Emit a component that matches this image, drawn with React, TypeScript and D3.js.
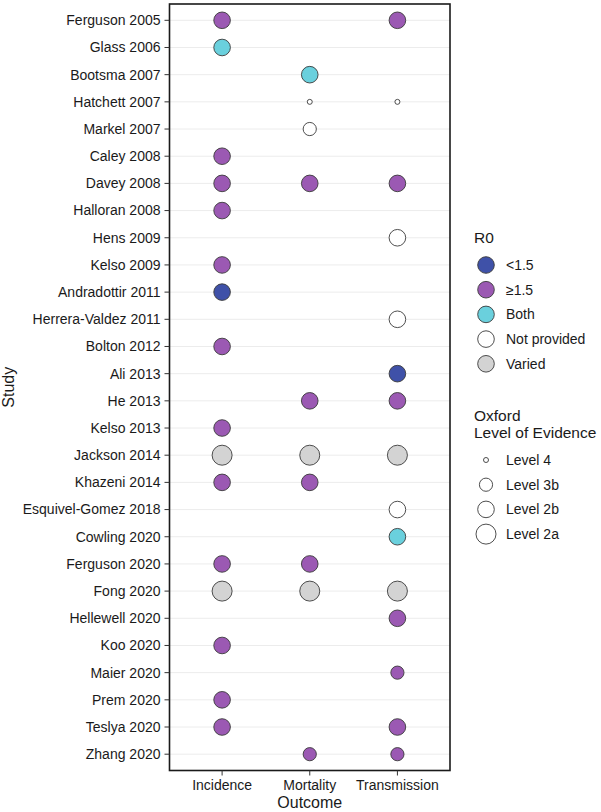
import React from 'react';
import * as d3 from 'd3';

const studies = [
  'Ferguson 2005', 'Glass 2006', 'Bootsma 2007', 'Hatchett 2007', 'Markel 2007',
  'Caley 2008', 'Davey 2008', 'Halloran 2008', 'Hens 2009', 'Kelso 2009',
  'Andradottir 2011', 'Herrera-Valdez 2011', 'Bolton 2012', 'Ali 2013', 'He 2013',
  'Kelso 2013', 'Jackson 2014', 'Khazeni 2014', 'Esquivel-Gomez 2018', 'Cowling 2020',
  'Ferguson 2020', 'Fong 2020', 'Hellewell 2020', 'Koo 2020', 'Maier 2020',
  'Prem 2020', 'Teslya 2020', 'Zhang 2020',
];
const outcomes = ['Incidence', 'Mortality', 'Transmission'];
const r0Levels = ['<1.5', '≥1.5', 'Both', 'Not provided', 'Varied'];
const r0Colors = ['#3f51a8', '#9b59b3', '#6ad0dd', '#ffffff', '#d3d3d3'];
const evidenceLevels = ['Level 4', 'Level 3b', 'Level 2b', 'Level 2a'];
const evidenceRadii = [2.5, 6.6, 8.3, 10];

// study, outcome, R0, level of evidence
const records: [string, string, string, string][] = [
  ['Ferguson 2005', 'Incidence', '≥1.5', 'Level 2b'],
  ['Ferguson 2005', 'Transmission', '≥1.5', 'Level 2b'],
  ['Glass 2006', 'Incidence', 'Both', 'Level 2b'],
  ['Bootsma 2007', 'Mortality', 'Both', 'Level 2b'],
  ['Hatchett 2007', 'Mortality', 'Not provided', 'Level 4'],
  ['Hatchett 2007', 'Transmission', 'Not provided', 'Level 4'],
  ['Markel 2007', 'Mortality', 'Not provided', 'Level 3b'],
  ['Caley 2008', 'Incidence', '≥1.5', 'Level 2b'],
  ['Davey 2008', 'Incidence', '≥1.5', 'Level 2b'],
  ['Davey 2008', 'Mortality', '≥1.5', 'Level 2b'],
  ['Davey 2008', 'Transmission', '≥1.5', 'Level 2b'],
  ['Halloran 2008', 'Incidence', '≥1.5', 'Level 2b'],
  ['Hens 2009', 'Transmission', 'Not provided', 'Level 2b'],
  ['Kelso 2009', 'Incidence', '≥1.5', 'Level 2b'],
  ['Andradottir 2011', 'Incidence', '<1.5', 'Level 2b'],
  ['Herrera-Valdez 2011', 'Transmission', 'Not provided', 'Level 2b'],
  ['Bolton 2012', 'Incidence', '≥1.5', 'Level 2b'],
  ['Ali 2013', 'Transmission', '<1.5', 'Level 2b'],
  ['He 2013', 'Mortality', '≥1.5', 'Level 2b'],
  ['He 2013', 'Transmission', '≥1.5', 'Level 2b'],
  ['Kelso 2013', 'Incidence', '≥1.5', 'Level 2b'],
  ['Jackson 2014', 'Incidence', 'Varied', 'Level 2a'],
  ['Jackson 2014', 'Mortality', 'Varied', 'Level 2a'],
  ['Jackson 2014', 'Transmission', 'Varied', 'Level 2a'],
  ['Khazeni 2014', 'Incidence', '≥1.5', 'Level 2b'],
  ['Khazeni 2014', 'Mortality', '≥1.5', 'Level 2b'],
  ['Esquivel-Gomez 2018', 'Transmission', 'Not provided', 'Level 2b'],
  ['Cowling 2020', 'Transmission', 'Both', 'Level 2b'],
  ['Ferguson 2020', 'Incidence', '≥1.5', 'Level 2b'],
  ['Ferguson 2020', 'Mortality', '≥1.5', 'Level 2b'],
  ['Fong 2020', 'Incidence', 'Varied', 'Level 2a'],
  ['Fong 2020', 'Mortality', 'Varied', 'Level 2a'],
  ['Fong 2020', 'Transmission', 'Varied', 'Level 2a'],
  ['Hellewell 2020', 'Transmission', '≥1.5', 'Level 2b'],
  ['Koo 2020', 'Incidence', '≥1.5', 'Level 2b'],
  ['Maier 2020', 'Transmission', '≥1.5', 'Level 3b'],
  ['Prem 2020', 'Incidence', '≥1.5', 'Level 2b'],
  ['Teslya 2020', 'Incidence', '≥1.5', 'Level 2b'],
  ['Teslya 2020', 'Transmission', '≥1.5', 'Level 2b'],
  ['Zhang 2020', 'Mortality', '≥1.5', 'Level 3b'],
  ['Zhang 2020', 'Transmission', '≥1.5', 'Level 3b'],
];

const W = 601;
const H = 812;
const font = '"Liberation Sans", Arial, sans-serif';
const panel = { left: 169.5, right: 450, top: 4, bottom: 770.5 };

const App = () => {
  const x = d3.scalePoint<string>().domain(outcomes).range([panel.left, panel.right]).padding(0.6);
  const y = d3.scalePoint<string>().domain(studies).range([panel.top, panel.bottom]).padding(0.6);
  const color = d3.scaleOrdinal<string, string>().domain(r0Levels).range(r0Colors);
  const radius = d3.scaleOrdinal<string, number>().domain(evidenceLevels).range(evidenceRadii);

  const legendX = 474;
  const keyX = 486;
  const labelX = 506;
  const keyStep = 24.7;

  return (
    <svg width={W} height={H} style={{ position: 'absolute', left: 0, top: 0 }} fontFamily={font}>
      <rect width={W} height={H} fill="#fff" />

      {/* grid */}
      {studies.map((s) => (
        <line key={s} x1={panel.left} x2={panel.right} y1={y(s)} y2={y(s)} stroke="#ececec" strokeWidth={1} />
      ))}

      {/* points */}
      {records.map(([s, o, r, lv]) => (
        <circle
          key={s + o}
          cx={x(o)}
          cy={y(s)}
          r={radius(lv)}
          fill={color(r)}
          stroke="#3a3a3a"
          strokeWidth={0.9}
        />
      ))}

      {/* panel border */}
      <rect
        x={panel.left}
        y={panel.top}
        width={panel.right - panel.left}
        height={panel.bottom - panel.top}
        fill="none"
        stroke="#1a1a1a"
        strokeWidth={1.6}
      />

      {/* y axis */}
      {studies.map((s) => (
        <g key={s} transform={`translate(0,${y(s)})`}>
          <line x1={panel.left - 5} x2={panel.left} stroke="#333" strokeWidth={1} />
          <text x={panel.left - 9} dy="0.35em" textAnchor="end" fontSize={14} fill="#1a1a1a">
            {s}
          </text>
        </g>
      ))}

      {/* x axis */}
      {outcomes.map((o) => (
        <g key={o} transform={`translate(${x(o)},${panel.bottom})`}>
          <line y1={0} y2={5} stroke="#333" strokeWidth={1} />
          <text y={19.5} textAnchor="middle" fontSize={14} fill="#1a1a1a">
            {o}
          </text>
        </g>
      ))}

      <text x={x('Mortality')} y={808} textAnchor="middle" fontSize={16} fill="#1a1a1a">
        Outcome
      </text>
      <text
        transform={`translate(14,${(panel.top + panel.bottom) / 2}) rotate(-90)`}
        textAnchor="middle"
        fontSize={16}
        fill="#1a1a1a"
      >
        Study
      </text>

      {/* R0 legend */}
      <text x={legendX} y={238} dy="0.35em" fontSize={15.5} fill="#1a1a1a">
        R0
      </text>
      {r0Levels.map((lv, i) => (
        <g key={lv} transform={`translate(0,${265 + i * keyStep})`}>
          <circle cx={keyX} r={8.3} fill={color(lv)} stroke="#3a3a3a" strokeWidth={0.9} />
          <text x={labelX} dy="0.35em" fontSize={14} fill="#1a1a1a">
            {lv}
          </text>
        </g>
      ))}

      {/* Evidence legend */}
      <text x={legendX} y={416} dy="0.35em" fontSize={15.5} fill="#1a1a1a">
        Oxford
      </text>
      <text x={legendX} y={433} dy="0.35em" fontSize={15.5} fill="#1a1a1a">
        Level of Evidence
      </text>
      {evidenceLevels.map((lv, i) => (
        <g key={lv} transform={`translate(0,${460 + i * keyStep})`}>
          <circle cx={keyX} r={radius(lv)} fill="#fff" stroke="#3a3a3a" strokeWidth={0.9} />
          <text x={labelX} dy="0.35em" fontSize={14} fill="#1a1a1a">
            {lv}
          </text>
        </g>
      ))}
    </svg>
  );
};

export default App;
